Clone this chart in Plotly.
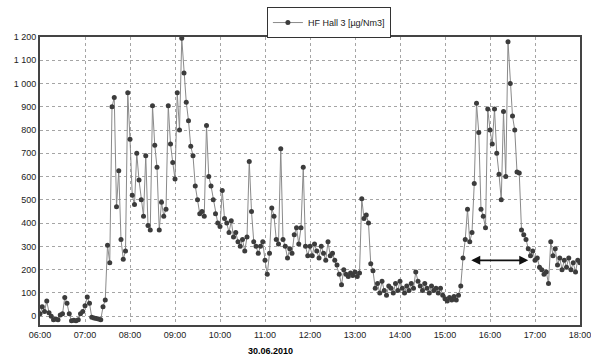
import pandas as pd
import plotly.graph_objects as go

# values every 3 minutes, one list per hour (20 readings each)
h06 = [10, 40, 20, 65, 15, 0, -15, -12, -15, 5, 10, 80, 55, 10, -20, -18, -20, -15, 10, 20]
h07 = [45, 82, 55, -5, -8, -10, -12, -15, 40, 70, 305, 230, 900, 940, 470, 625, 330, 245, 280, 960]
h08 = [760, 520, 480, 700, 585, 500, 430, 690, 390, 370, 905, 735, 640, 370, 490, 430, 460, 905, 740, 660]
h09 = [590, 960, 800, 1195, 1045, 920, 840, 730, 690, 560, 500, 440, 450, 430, 820, 600, 560, 500, 440, 400]
h10 = [385, 540, 420, 400, 360, 410, 340, 360, 320, 300, 330, 280, 340, 665, 450, 320, 300, 270, 300, 320]
h11 = [240, 180, 270, 465, 430, 330, 310, 720, 330, 300, 250, 290, 270, 350, 380, 310, 380, 640, 300, 260]
h12 = [300, 260, 310, 280, 250, 300, 270, 240, 320, 260, 270, 240, 220, 180, 135, 200, 180, 170, 185, 175]
h13 = [190, 170, 185, 505, 420, 435, 400, 225, 195, 120, 140, 100, 150, 110, 90, 130, 120, 100, 140, 110]
h14 = [150, 120, 100, 130, 110, 140, 120, 190, 150, 130, 110, 140, 120, 100, 130, 110, 120, 100, 120, 90]
h15 = [75, 65, 80, 70, 85, 70, 90, 130, 250, 330, 460, 320, 360, 570, 915, 790, 460, 430, 380, 890]
h16 = [800, 740, 890, 700, 610, 500, 880, 600, 1180, 1000, 860, 800, 620, 615, 370, 350, 330, 290, 260, 280]
h17 = [240, 250, 210, 200, 180, 190, 140, 320, 260, 290, 220, 250, 200, 240, 210, 250, 200, 230, 190, 240]
h18 = [230]

values = h06 + h07 + h08 + h09 + h10 + h11 + h12 + h13 + h14 + h15 + h16 + h17 + h18
times = pd.date_range("2010-06-30 06:00", periods=len(values), freq="3min")

series_name = "HF Hall 3 [µg/Nm3]"
date_label = "30.06.2010"
y_ticks = list(range(0, 1300, 100))
y_labels = [f"{v:,}".replace(",", " ") for v in y_ticks]

# double arrow annotation (data coordinates)
arrow_start = "2010-06-30 15:33"
arrow_end = "2010-06-30 16:51"
arrow_level = 240

fig = go.Figure()
fig.add_trace(go.Scatter(
    x=times, y=values, mode="lines+markers", name=series_name,
    line=dict(color="#8a8a8a", width=1),
    marker=dict(color="#3c3c3c", size=5, symbol="circle"),
    showlegend=True,
))

fig.add_annotation(
    x=arrow_end, y=arrow_level, ax=arrow_start, ay=arrow_level,
    xref="x", yref="y", axref="x", ayref="y",
    text="", showarrow=True, arrowhead=2, arrowside="end+start",
    arrowwidth=1.8, arrowsize=1, arrowcolor="#111",
)

fig.add_annotation(
    x=0.426, y=-0.09, xref="paper", yref="paper",
    text=f"<b>{date_label}</b>", showarrow=False,
    font=dict(family="Liberation Sans, Arial", size=9, color="#000"),
    xanchor="center", yanchor="middle",
)

axis_font = dict(family="Liberation Sans, Arial", size=9, color="#222")

fig.update_layout(
    width=591, height=358,
    margin=dict(l=40, r=11, t=37, b=33, autoexpand=False),
    paper_bgcolor="white", plot_bgcolor="white",
    showlegend=True,
    legend=dict(
        x=0.535, y=1.104, xanchor="center", yanchor="top",
        orientation="h",
        bordercolor="#333", borderwidth=1, bgcolor="white",
        font=dict(family="Liberation Sans, Arial", size=9, color="#222"),
        itemwidth=30, tracegroupgap=0,
    ),
    xaxis=dict(
        range=["2010-06-30 06:00", "2010-06-30 18:00"],
        tickformat="%H:%M", dtick=3600000,
        tick0="2010-06-30 06:00",
        showgrid=True, gridcolor="#a5a5a5", griddash="dot", gridwidth=1,
        showline=True, mirror=True, linecolor="#444", linewidth=2,
        ticks="", ticklen=0, tickfont=axis_font, zeroline=False,
        ticklabeloverflow="allow",
    ),
    yaxis=dict(
        range=[-38, 1200],
        tickvals=y_ticks, ticktext=y_labels,
        showgrid=True, gridcolor="#a5a5a5", griddash="dot", gridwidth=1,
        showline=True, mirror=True, linecolor="#444", linewidth=2,
        ticks="", ticklen=0, tickfont=axis_font, zeroline=False,
    ),
)

fig.write_html(
    "out.html",
    config={"displayModeBar": False},
    post_script="document.body.style.margin='0';document.body.style.overflow='hidden';",
)
